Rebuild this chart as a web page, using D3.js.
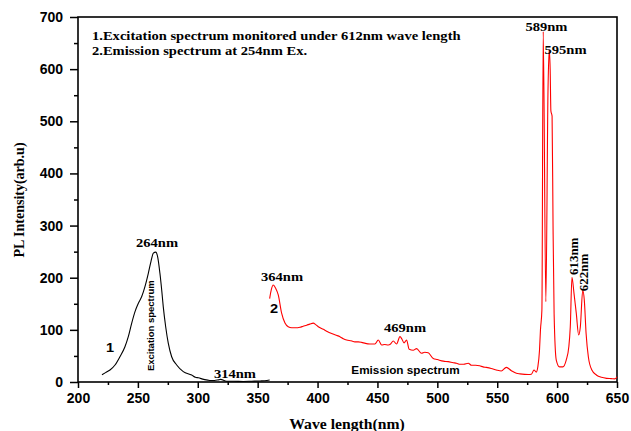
<!DOCTYPE html>
<html>
<head>
<meta charset="utf-8">
<script src="https://cdn.jsdelivr.net/npm/d3@7"></script>
<style>
  body { margin: 0; background: #fff; }
  svg { display: block; }
  .tick text { font-family: "Liberation Sans", Arial, sans-serif; font-weight: bold; font-size: 14px; fill: #000; }
  .tick line { stroke: #000; stroke-width: 1.5; }
  .serif { font-family: "Liberation Serif", "Times New Roman", serif; font-weight: bold; }
  .sans { font-family: "Liberation Sans", Arial, sans-serif; font-weight: bold; }
</style>
</head>
<body>
<div id="chart"></div>
<script>
// excitation spectrum (monitored at 612nm)
var excWave = [220, 223, 226.7, 230.9, 235, 239.2, 242, 244.8, 247.6, 250.4, 253.2, 255.9, 258.7, 260.9, 262.9, 264.9, 266.5, 268.4, 269.9, 271.2, 273.2, 275.4, 278.2, 282.4, 287.9, 294.9, 298, 300.4, 305, 310, 314, 317, 319, 324, 330, 338, 345, 352, 356, 360];
var excInt  = [14, 18, 23, 32.6, 48.5, 67.7, 87, 112.6, 135, 151, 164, 183, 208.5, 231, 247, 249, 240, 208.5, 176, 144, 106, 74, 48.5, 32.6, 19.8, 13.4, 9, 8, 5, 3, 3, 4, 5, 1.5, 1.5, 1, 1.5, 2, 2.5, 4];

// emission spectrum (254nm excitation)
var emWave = [360, 361.5, 363, 365, 367.2, 370, 372.8, 375.5, 378.4, 381.5, 385.3, 388, 390.9, 393.5, 396.4, 398.5, 400.6, 404.8, 408, 411.8, 415, 418.7, 421.5, 424.3, 428, 431.2, 434, 436.8, 440, 443.7, 447.9, 450.7, 453.5, 456, 459, 461, 463.2, 466, 468.8, 470.5, 472.2, 474.3, 476.5, 479.9, 482.7, 486.8, 489.5, 492.4, 496.6, 500, 505, 509, 513.3, 516, 518.9, 522, 525.8, 528.6, 532, 535.3, 538.2, 540.9, 545, 549.3, 553.4, 557.6, 561.8, 566, 569, 572.9, 576, 578.5, 580.7, 582.6, 583.9, 585.3, 586.1, 587.3, 588.4, 590.6, 592.4, 593.4, 594.2, 594.8, 595.8, 596.6, 597.5, 599.3, 602, 604.8, 607.6, 609.8, 611, 612.4, 614.1, 616, 618, 619.4, 621.4, 622.7, 624.2, 626.1, 629, 633, 637, 641.3, 645, 648.3, 650];
var emInt  = [160, 178, 186, 180, 167, 132, 113, 106, 104, 104, 105, 107, 109, 111, 113, 110, 106, 101, 97, 93, 90, 87, 83, 80.5, 79, 77, 77, 76, 74, 73, 73, 80.5, 71, 72, 71, 73, 78.6, 73, 87, 82, 75, 80.5, 62.7, 61, 64, 55, 57, 56, 45, 43, 40, 39, 37, 36, 34, 34, 36, 32, 32, 31, 29, 28, 26, 23, 21, 28, 21.7, 16.6, 15.5, 14.7, 14.5, 15, 23, 19, 29, 61, 100, 138, 672, 154, 560, 637, 600, 520, 510, 300, 130, 42, 29, 29, 42, 68, 106, 201, 170, 132, 90, 106, 176, 157, 93, 48, 23, 13, 9, 7, 6.5, 6, 10];

var xMajor = [200, 250, 300, 350, 400, 450, 500, 550, 600, 650];
var yMajor = [0, 100, 200, 300, 400, 500, 600, 700];

var W = 631, H = 431;
var margin = {top: 17, right: 14, bottom: 49, left: 78};
var stretch = 1.12; // the original figure is a bit wide for its text

var svg = d3.select("#chart").append("svg")
    .attr("width", W)
    .attr("height", H);

var x = d3.scaleLinear().domain([200, 650]).range([margin.left, W - margin.right]);
var y = d3.scaleLinear().domain([0, 700]).range([H - margin.bottom, margin.top]);

// minor ticks first, no labels
svg.append("g")
    .attr("transform", "translate(0," + (H - margin.bottom) + ")")
    .call(d3.axisBottom(x).tickValues(d3.range(225, 650, 50)).tickSize(3).tickFormat(""))
    .call(function(g){ g.select(".domain").remove(); });
svg.append("g")
    .attr("transform", "translate(" + margin.left + ",0)")
    .call(d3.axisLeft(y).tickValues(d3.range(50, 700, 100)).tickSize(4).tickFormat(""))
    .call(function(g){ g.select(".domain").remove(); });

// major ticks
svg.append("g")
    .attr("transform", "translate(0," + (H - margin.bottom) + ")")
    .call(d3.axisBottom(x).tickValues(xMajor).tickSize(6).tickPadding(5).tickFormat(d3.format("d")))
    .call(function(g){ g.select(".domain").remove(); });
svg.append("g")
    .attr("transform", "translate(" + margin.left + ",0)")
    .call(d3.axisLeft(y).tickValues(yMajor).tickSize(8).tickPadding(7).tickFormat(d3.format("d")))
    .call(function(g){ g.select(".domain").remove(); });

// frame
svg.append("rect")
    .attr("x", margin.left)
    .attr("y", margin.top)
    .attr("width", W - margin.left - margin.right)
    .attr("height", H - margin.top - margin.bottom)
    .attr("fill", "none")
    .attr("stroke", "#000")
    .attr("stroke-width", 1.6);

var line = d3.line()
    .x(function(d){ return x(d[0]); })
    .y(function(d){ return y(d[1]); })
    .curve(d3.curveMonotoneX);

svg.append("path")
    .datum(d3.zip(excWave, excInt))
    .attr("d", line)
    .attr("fill", "none")
    .attr("stroke", "#000")
    .attr("stroke-width", 1.1);

svg.append("path")
    .datum(d3.zip(emWave, emInt))
    .attr("d", line)
    .attr("fill", "none")
    .attr("stroke", "#ff0000")
    .attr("stroke-width", 1.1);

// horizontal text, widened like the original
function label(cls, size, px, py, anchor, txt){
    return svg.append("text")
        .attr("class", cls)
        .attr("font-size", size)
        .attr("text-anchor", anchor)
        .attr("transform", "translate(" + px + "," + py + ") scale(" + stretch + ",1)")
        .text(txt);
}

// axis titles
label("serif", 14, 347, 429, "middle", "Wave length(nm)");

svg.append("text")
    .attr("class", "serif")
    .attr("transform", "translate(24,200) rotate(-90)")
    .attr("text-anchor", "middle")
    .attr("font-size", 14)
    .text("PL Intensity(arb.u)");

// legend text
label("serif", 13, 92, 40, "start", "1.Excitation spectrum monitored under 612nm wave length");
label("serif", 13, 92, 55, "start", "2.Emission spectrum at 254nm Ex.");

// peak labels
var peakLabels = [
    {t: "264nm", wl: 266, v: 259},
    {t: "314nm", wl: 331, v: 7.7},
    {t: "364nm", wl: 370.3, v: 194},
    {t: "469nm", wl: 473, v: 96},
    {t: "589nm", wl: 591.1, v: 673},
    {t: "595nm", wl: 607, v: 629}
];
peakLabels.forEach(function(d){
    label("serif", 13, x(d.wl), y(d.v), "middle", d.t);
});

// rotated labels on the red peaks
[{t: "613nm", wl: 617.4, v: 241}, {t: "622nm", wl: 625.8, v: 210}].forEach(function(d){
    svg.append("text")
        .attr("class", "serif")
        .attr("font-size", 13)
        .attr("text-anchor", "middle")
        .attr("transform", "translate(" + x(d.wl) + "," + y(d.v) + ") rotate(-90)")
        .text(d.t);
});

label("sans", 13, x(226.7), y(57), "middle", "1");
label("sans", 13, x(363.6), y(132), "middle", "2");

svg.append("text").attr("class", "sans").attr("font-size", 9.5)
    .attr("text-anchor", "middle")
    .attr("transform", "translate(" + x(263.4) + "," + y(108) + ") rotate(-90)")
    .text("Excitation spectrum");

label("sans", 10.5, x(473.4), y(15.3), "middle", "Emission spectrum");
</script>
</body>
</html>
